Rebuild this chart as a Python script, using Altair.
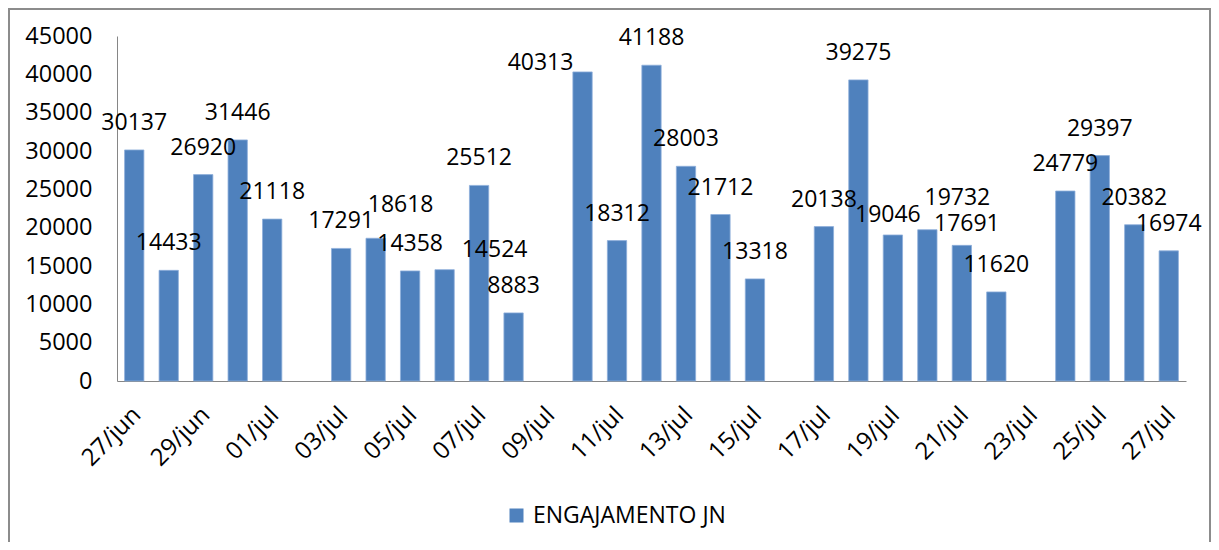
import altair as alt
import pandas as pd

dates = ["27/jun", "28/jun", "29/jun", "30/jun", "01/jul", "02/jul", "03/jul",
         "04/jul", "05/jul", "06/jul", "07/jul", "08/jul", "09/jul", "10/jul",
         "11/jul", "12/jul", "13/jul", "14/jul", "15/jul", "16/jul", "17/jul",
         "18/jul", "19/jul", "20/jul", "21/jul", "22/jul", "23/jul", "24/jul",
         "25/jul", "26/jul", "27/jul"]
values = [30137, 14433, 26920, 31446, 21118, None, 17291,
          18618, 14358, 14524, 25512, 8883, None, 40313,
          18312, 41188, 28003, 21712, 13318, None, 20138,
          39275, 19046, 19732, 17691, 11620, None, 24779,
          29397, 20382, 16974]
series_name = "ENGAJAMENTO JN"
y_ticks = [0, 5000, 10000, 15000, 20000, 25000, 30000, 35000, 40000, 45000]

df = pd.DataFrame({"date": dates, "value": values, "serie": series_name})
df_valid = df.dropna()

FONT = "Open Sans"
BLUE = "#4F81BD"
W, H = 1069, 345

# data labels that were hand-moved in the original chart (style: pixel nudges)
label_nudges = {
    "04/jul": (25, -33),
    "06/jul": (50, -20),
    "10/jul": (-42, -9),
    "19/jul": (-5, -20),
    "20/jul": (30, -32),
    "21/jul": (5, -21),
}

x_enc = alt.X("date:N", sort=dates,
              scale=alt.Scale(domain=dates, paddingInner=0.44, paddingOuter=0.22),
              axis=alt.Axis(values=dates[::2], labelAngle=315, labelAlign="right",
                            labelBaseline="middle", labelPadding=30, labelOffset=3,
                            ticks=False, domainColor="#868686", labelFont=FONT,
                            labelFontSize=24, labelColor="#000000", title=None,
                            grid=False, labelOverlap=False))
y_enc = alt.Y("value:Q", scale=alt.Scale(domain=[0, 45000], nice=False),
              axis=alt.Axis(values=y_ticks, format="d", ticks=False,
                            domainColor="#868686", labelFont=FONT,
                            labelFontSize=23.5, labelColor="#000000",
                            labelPadding=25, title=None, grid=False,
                            labelOverlap=False, labelFlush=False))

bars = alt.Chart(df_valid).mark_bar(stroke="#8eaedb", strokeWidth=0.8).encode(
    x=x_enc,
    y=y_enc,
    color=alt.Color("serie:N",
                    scale=alt.Scale(domain=[series_name], range=[BLUE]),
                    legend=alt.Legend(title=None, orient="none", legendX=388,
                                      legendY=468, symbolType="square",
                                      symbolSize=196, symbolStrokeWidth=0,
                                      labelFont=FONT, labelFontSize=23,
                                      labelColor="#000000", labelOffset=5,
                                      labelLimit=500, padding=0)),
)

def text_layer(data, dx=0, dy=-27):
    return alt.Chart(data).mark_text(
        font=FONT, fontSize=23, color="#000000", baseline="middle",
        align="center", dx=dx, dy=dy
    ).encode(
        x=x_enc,
        y=y_enc,
        text=alt.Text("value:Q", format="d"),
    )

base_labels = text_layer(df_valid[~df_valid["date"].isin(label_nudges.keys())])
moved_labels = [text_layer(df_valid[df_valid["date"] == d], dx=nx, dy=ny)
                for d, (nx, ny) in label_nudges.items()]

frame = alt.Chart(pd.DataFrame({"a": [0]})).mark_rect(
    fill=None, stroke="#8c8c8c", strokeWidth=2, clip=False
).encode(
    x=alt.value(-108), x2=alt.value(W + 24),
    y=alt.value(-27), y2=alt.value(H + 300),
)

chart = alt.layer(bars, base_labels, *moved_labels, frame).properties(
    width=W, height=H,
    autosize=alt.AutoSizeParams(type="none"),
    padding={"left": 109, "top": 28, "right": 25, "bottom": 161},
    background="white",
).configure_view(stroke=None)

chart.save("out.html", embed_options={"renderer": "svg", "actions": False})
